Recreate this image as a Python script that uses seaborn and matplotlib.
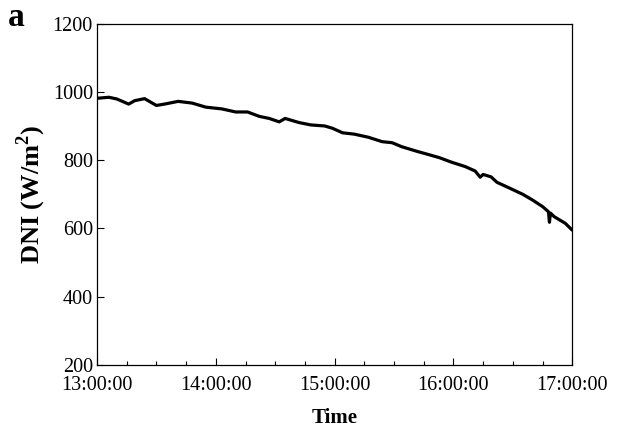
import matplotlib
matplotlib.use("Agg")
import matplotlib.dates as mdates
import matplotlib.pyplot as plt
import pandas as pd
import seaborn as sns

start_time = "2000-01-01 13:00:00"
# minutes after 13:00 and DNI
minutes = [0, 6, 10, 16, 19, 24, 30, 34, 41, 48, 55, 63, 70, 76, 82, 87,
           92, 95, 102, 108, 115, 119, 124, 130, 137, 144, 149, 154, 162,
           167, 173, 179, 186, 191, 193.5, 195, 199, 202, 208, 215, 220,
           225, 228, 228.5, 229, 231, 236.5, 240]
dni = [981, 984, 979, 964, 974, 980, 960, 964, 972, 967, 955, 950, 941, 941,
       928, 922, 912, 922, 910, 903, 900, 893, 880, 876, 867, 854, 851, 839,
       825, 817, 807, 794, 781, 768, 750, 758, 751, 735, 719, 700, 683, 664,
       649, 618, 645, 634, 615, 595]
y_ticks = [200, 400, 600, 800, 1000, 1200]

sns.set_style("white")
plt.rcParams["font.family"] = ["Liberation Serif", "DejaVu Serif"]
plt.rcParams["mathtext.fontset"] = "custom"
plt.rcParams["mathtext.rm"] = "Liberation Serif"
plt.rcParams["mathtext.bf"] = "Liberation Serif:bold"
plt.rcParams["text.color"] = "black"
plt.rcParams["axes.labelcolor"] = "black"
plt.rcParams["xtick.color"] = "black"
plt.rcParams["ytick.color"] = "black"

t0 = pd.Timestamp(start_time)
df = pd.DataFrame({"time": t0 + pd.to_timedelta(minutes, unit="min"), "dni": dni})

fig, ax = plt.subplots(figsize=(6.24, 4.32), dpi=100)
fig.subplots_adjust(left=0.1555, right=0.917, top=0.9456, bottom=0.155)

sns.lineplot(data=df, x="time", y="dni", color="black", linewidth=2.3, ax=ax)

ax.set_xlim(t0, t0 + pd.Timedelta(hours=4))
ax.set_ylim(200, 1200)
ax.set_yticks(y_ticks)
ax.xaxis.set_major_locator(mdates.HourLocator())
ax.xaxis.set_minor_locator(mdates.MinuteLocator(byminute=[15, 30, 45]))
ax.xaxis.set_major_formatter(mdates.DateFormatter("%H:%M:%S"))
ax.tick_params(axis="both", which="major", direction="in", length=5,
               width=0.8, labelsize=14.5, pad=3, bottom=True, left=True)
ax.tick_params(axis="x", which="major", pad=8)
ax.tick_params(axis="x", which="minor", direction="in", length=3,
               width=0.8, bottom=True)

for s in ax.spines.values():
    s.set_color("black")
    s.set_linewidth(0.9)

ax.set_xlabel("Time", fontsize=15, fontweight="bold", labelpad=9)
ax.set_ylabel(r"DNI (W/m$^{\mathbf{2}}$)", fontsize=19, fontweight="bold",
              labelpad=3)
fig.text(0.012, 0.94, "a", fontsize=24, fontweight="bold")

plt.savefig("out.png", dpi=100)
plt.close()
